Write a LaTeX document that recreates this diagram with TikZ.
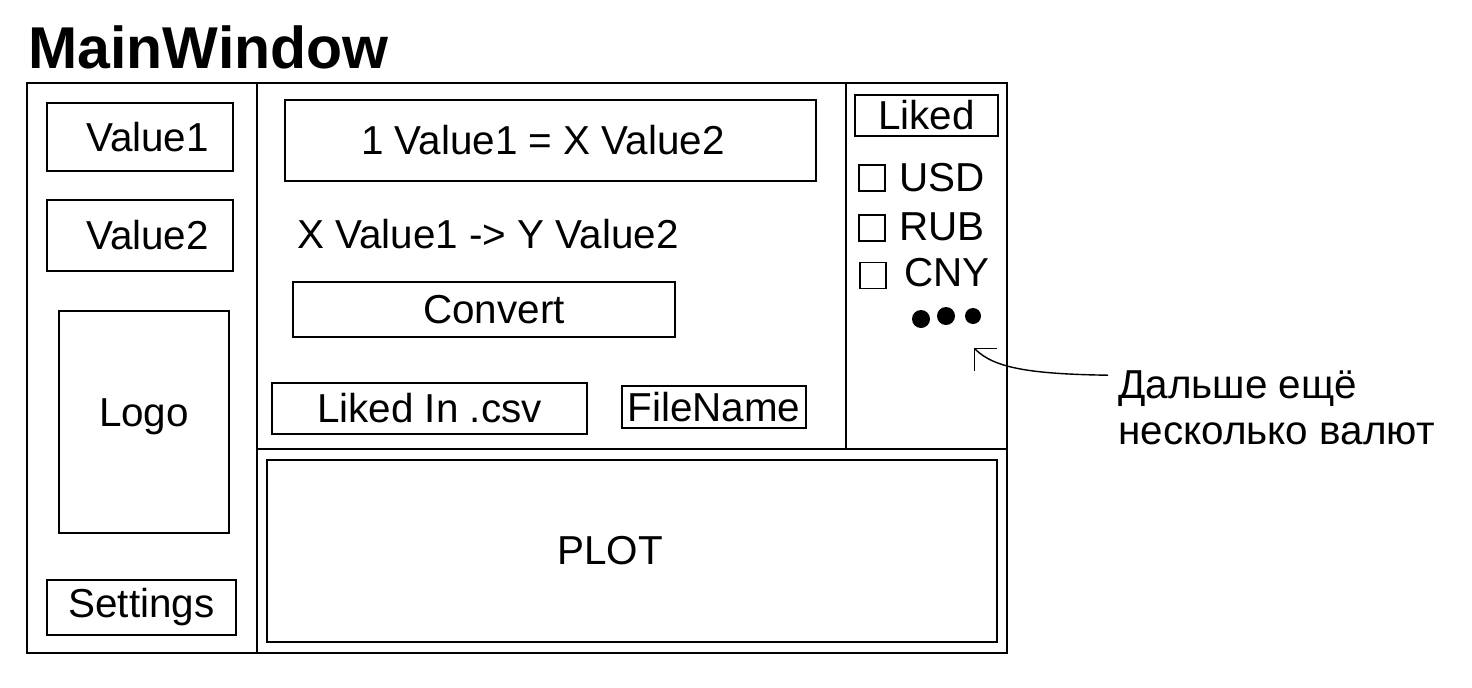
\documentclass[tikz,border=0pt]{standalone}
\usepackage{fontspec}
\setmainfont{Liberation Sans}
\usetikzlibrary{arrows.meta}
\tikzstyle{widget} = [
  draw,
  rectangle,
  line width=1.2pt,
  inner sep=0pt,
  align=center,
]
\tikzstyle{checkbox} = [
  draw,
  rectangle,
  line width=1.1pt,
  minimum size=0.52cm,
  inner sep=0pt,
]
\tikzstyle{caption} = [
  inner sep=0pt,
]
\tikzstyle{blob} = [
  circle,
  fill,
  inner sep=0pt,
  minimum size=0.36cm,
]

\begin{document}
\begin{tikzpicture}[
    x=0.02cm,
    y=-0.02cm,
    font=\fontsize{23}{26}\selectfont,
  ]
  \useasboundingbox (0,0) rectangle (1472,687);
  \node[
    caption,
    anchor=base west,
    font=\fontsize{33.6}{40}\selectfont\bfseries,
  ](title) at (28,68) {MainWindow};
  % window frame
  \draw[line width=1.2pt] (27,83) rectangle (1007,653);
  \draw[line width=1.2pt] (257,83) -- (257,653);
  \draw[line width=1.2pt] (846,83) -- (846,449);
  \draw[line width=1.2pt] (257,449) -- (1007,449);
  % left column
  \node[widget, minimum width=3.72cm, minimum height=1.36cm]
    (value1) at (140,137) {\hspace{0.3cm}Value1};
  \node[widget, minimum width=3.72cm, minimum height=1.42cm]
    (value2) at (140,235.5) {\hspace{0.3cm}Value2};
  \node[widget, minimum width=3.40cm, minimum height=4.44cm]
    (logo) at (144,422) {\raisebox{0.36cm}{Logo}};
  \node[widget, minimum width=3.78cm, minimum height=1.10cm]
    (settings) at (141.5,607.5) {Settings};
  % middle column
  \node[widget, minimum width=10.62cm, minimum height=1.62cm]
    (rate) at (550.5,140.5) {1 Value1 = X Value2\hspace{0.3cm}};
  \node[caption] (result) at (488,234) {X Value1 -> Y Value2};
  \node[widget, minimum width=7.64cm, minimum height=1.10cm]
    (convert) at (484,309.5) {\hspace{0.4cm}Convert};
  \node[widget, minimum width=6.30cm, minimum height=1.02cm]
    (likedcsv) at (429.5,408.5) {Liked In .csv};
  \node[widget, minimum width=3.68cm, minimum height=0.84cm]
    (filename) at (714,407) {FileName};
  % liked currencies
  \node[widget, minimum width=2.86cm, minimum height=0.82cm]
    (liked) at (926.5,115.5) {Liked};
  \node[checkbox] (usdbox) at (872,178) {};
  \node[caption, anchor=west] (usd) at (899,178) {USD};
  \node[checkbox] (rubbox) at (872,228) {};
  \node[caption, anchor=west] (rub) at (899,227) {RUB};
  \node[checkbox] (cnybox) at (873,275.5) {};
  \node[caption, anchor=west] (cny) at (904,273) {CNY};
  \node[blob] (dot1) at (921,319) {};
  \node[blob] (dot2) at (946,316) {};
  \node[blob, minimum size=0.32cm] (dot3) at (973,316) {};
  % plot
  \node[widget, line width=1.6pt, minimum width=14.6cm, minimum height=3.64cm]
    (plot) at (632,551) {PLOT\hspace{0.88cm}};
  % note
  \node[
    caption,
    anchor=west,
    align=left,
  ](note) at (1118,407.5) {Дальше ещё\\несколько валют};
  \coordinate (tip) at (974,348);
  \draw[-{Straight Barb[length=9pt,width=18pt]}, line width=0.8pt]
    ([xshift=-0.2cm,yshift=-0.1cm]note.north west)
    .. controls (1030,374) and (994,368) .. (tip);
\end{tikzpicture}
\end{document}
